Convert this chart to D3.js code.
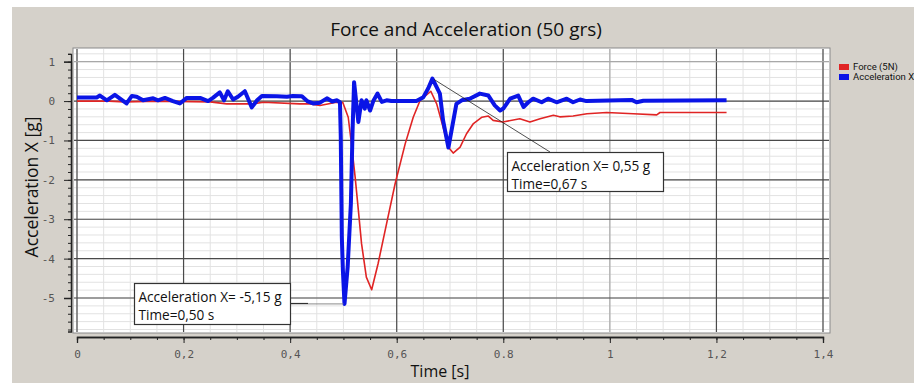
<!DOCTYPE html>
<html><head><meta charset="utf-8">
<script src="https://cdn.jsdelivr.net/npm/d3@7"></script>
<style>html,body{margin:0;padding:0;background:#fff;overflow:hidden}</style>
</head><body>
<svg id="chart" width="914" height="383"></svg>
<script>
const chartTitle = "Force and Acceleration (50 grs)";
const xTitle = "Time [s]";
const yTitle = "Acceleration  X [g]";
const seriesNames = ["Force (5N)", "Acceleration X"];
const xTickValues = [0, 0.2, 0.4, 0.6, 0.8, 1.0, 1.2, 1.4];
const xTickLabels = ["0", "0,2", "0,4", "0,6", "0.8", "1", "1,2", "1,4"];
const yTickValues = [1, 0, -1, -2, -3, -4, -5];
const yTickLabels = ["1", "0", "-1", "-2", "-3", "-4", "-5"];

const accelTime = [0.000,0.037,0.043,0.056,0.071,0.093,0.103,0.112,0.124,0.143,0.152,0.165,0.180,0.193,0.206,0.231,0.246,0.255,0.268,0.276,0.283,0.293,0.302,0.315,0.328,0.338,0.347,0.375,0.394,0.405,0.422,0.432,0.443,0.456,0.469,0.479,0.488,0.4935,0.495,0.497,0.499,0.502,0.508,0.514,0.517,0.520,0.528,0.534,0.540,0.543,0.550,0.556,0.564,0.572,0.581,0.590,0.637,0.650,0.659,0.667,0.681,0.687,0.697,0.703,0.712,0.722,0.737,0.756,0.772,0.784,0.794,0.800,0.813,0.828,0.838,0.847,0.856,0.872,0.884,0.900,0.919,0.931,0.944,0.956,1.041,1.050,1.063,1.219];
const accelValues = [0.09,0.09,0.14,0.02,0.16,-0.06,0.13,0.11,0.02,0.07,0.02,0.08,0.00,-0.06,0.08,0.08,0.00,0.08,0.22,0.02,0.25,0.04,0.11,0.25,-0.16,0.02,0.13,0.12,0.11,0.13,0.12,0.00,-0.06,-0.04,0.07,-0.01,0.02,-0.03,-0.90,-3.45,-4.30,-5.15,-4.20,-2.60,-0.82,0.48,-0.53,0.02,-0.19,0.02,-0.24,0.00,0.19,-0.02,0.02,0.00,0.00,0.10,0.32,0.57,0.19,-0.49,-1.18,-0.74,-0.07,0.02,0.06,0.19,0.14,-0.11,-0.24,-0.19,0.06,0.14,-0.15,-0.03,0.06,-0.03,0.06,-0.03,0.06,-0.03,0.04,0.00,0.03,-0.03,0.01,0.02];

const forceTime = [0.000,0.060,0.090,0.150,0.250,0.281,0.330,0.350,0.418,0.437,0.456,0.487,0.499,0.509,0.515,0.522,0.528,0.534,0.543,0.553,0.565,0.581,0.597,0.616,0.631,0.644,0.664,0.675,0.687,0.697,0.706,0.719,0.731,0.744,0.760,0.772,0.781,0.799,0.831,0.850,0.869,0.894,0.906,0.931,0.957,0.994,1.044,1.088,1.094,1.219];
const forceValues = [0.00,0.00,-0.02,0.00,-0.02,-0.07,-0.07,-0.03,-0.07,-0.07,-0.11,-0.03,-0.04,-0.41,-1.08,-1.93,-2.77,-3.62,-4.47,-4.79,-4.13,-3.11,-2.10,-1.08,-0.41,0.02,0.25,-0.07,-0.66,-1.17,-1.32,-1.17,-0.83,-0.57,-0.41,-0.38,-0.49,-0.53,-0.45,-0.53,-0.45,-0.36,-0.40,-0.38,-0.32,-0.29,-0.32,-0.35,-0.29,-0.29];

const annotations = [
  {t: 0.67, v: 0.55, lines: ["Acceleration X= 0,55 g", "Time=0,67 s"]},
  {t: 0.50, v: -5.15, lines: ["Acceleration X= -5,15 g", "Time=0,50 s"]}
];

const svg = d3.select("#chart");
const x = d3.scaleLinear().domain([0, 1.4]).range([77, 823]);
const y = d3.scaleLinear().domain([1, -5]).range([61.7, 298]);
const plotL = 73, plotR = 830, plotT = 48, plotB = 333;

// background panel
svg.append("rect").attr("x", 0).attr("y", 0).attr("width", 914).attr("height", 383).attr("fill", "#ffffff");
svg.append("rect").attr("x", 12).attr("y", 7).attr("width", 902).attr("height", 376).attr("fill", "#d5d1ca");

// plot area
svg.append("rect").attr("x", plotL).attr("y", plotT).attr("width", plotR - plotL).attr("height", plotB - plotT)
  .attr("fill", "#ffffff").attr("stroke", "#8a8a8a").attr("stroke-width", 1);

const grid = svg.append("g");
d3.range(0, 1.4001, 0.05).forEach(t => {
  grid.append("line").attr("x1", x(t)).attr("x2", x(t)).attr("y1", plotT + 1).attr("y2", plotB - 1)
    .attr("stroke", "#e2e2e2").attr("stroke-width", 1);
});
d3.range(-5.8, 1.25, 0.2).forEach(v => {
  grid.append("line").attr("x1", plotL + 1).attr("x2", plotR - 1).attr("y1", y(v)).attr("y2", y(v))
    .attr("stroke", "#e2e2e2").attr("stroke-width", 1);
});
xTickValues.forEach(t => {
  grid.append("line").attr("x1", x(t)).attr("x2", x(t)).attr("y1", plotT + 1).attr("y2", plotB - 1)
    .attr("stroke", Math.abs(t - 1) < 1e-9 ? "#a8a8a8" : "#4a4a4a").attr("stroke-width", 1.2);
});
yTickValues.forEach(v => {
  grid.append("line").attr("x1", plotL + 1).attr("x2", plotR - 1).attr("y1", y(v)).attr("y2", y(v))
    .attr("stroke", v === 1 ? "#a8a8a8" : "#4a4a4a").attr("stroke-width", 1.2);
});

// y axis
const yAxisG = svg.append("g").attr("transform", "translate(71,0)");
const yAxisScale = d3.scaleLinear().domain([1.2, -5.85]).range([y(1.2), y(-5.85)]);
yAxisG.call(d3.axisLeft(yAxisScale).tickValues(d3.range(-5.8, 1.25, 0.2)).tickSize(3).tickFormat(""));
yAxisG.append("g").call(d3.axisLeft(y).tickValues(yTickValues).tickSize(7).tickFormat((d, i) => yTickLabels[i]));
yAxisG.selectAll("path.domain").attr("stroke", "#222").attr("stroke-width", 1.3);
yAxisG.selectAll("line").attr("stroke", "#222");
yAxisG.selectAll("text").attr("font-family", "DejaVu Sans Mono").attr("font-size", 11).attr("fill", "#555").attr("x", -16);

// x axis
const xAxisG = svg.append("g").attr("transform", "translate(0,337)");
xAxisG.call(d3.axisBottom(x).tickValues(d3.range(0, 1.4001, 0.05)).tickSize(3).tickFormat(""));
xAxisG.append("g").call(d3.axisBottom(x).tickValues(xTickValues).tickSize(6).tickFormat((d, i) => xTickLabels[i]));
xAxisG.selectAll("path.domain").attr("stroke", "#222").attr("stroke-width", 1.3);
xAxisG.selectAll("line").attr("stroke", "#222");
xAxisG.selectAll("text").attr("font-family", "DejaVu Sans Mono").attr("font-size", 11).attr("fill", "#555").attr("y", 13);

// series
const lineGen = (ts, vs) => d3.line().x((d, i) => x(ts[i])).y((d, i) => y(vs[i]))(vs);
svg.append("path").attr("d", lineGen(forceTime, forceValues)).attr("fill", "none")
  .attr("stroke", "#e02424").attr("stroke-width", 1.6).attr("stroke-linejoin", "round");
svg.append("path").attr("d", lineGen(accelTime, accelValues)).attr("fill", "none")
  .attr("stroke", "#0a14e6").attr("stroke-width", 4).attr("stroke-linejoin", "round");

// annotations
const a1 = annotations[0], a2 = annotations[1];
svg.append("line").attr("x1", x(a1.t)).attr("y1", y(a1.v)).attr("x2", 550).attr("y2", 152)
  .attr("stroke", "#222").attr("stroke-width", 0.8);
svg.append("line").attr("x1", 290).attr("y1", y(a2.v)).attr("x2", x(a2.t)).attr("y2", y(a2.v))
  .attr("stroke", "#8a8a8a").attr("stroke-width", 1);
svg.append("line").attr("x1", 290).attr("y1", y(a2.v) - 0.5).attr("x2", 308).attr("y2", y(a2.v) - 0.5)
  .attr("stroke", "#222").attr("stroke-width", 1);

function box(bx, by, bw, bh, lines) {
  svg.append("rect").attr("x", bx).attr("y", by).attr("width", bw).attr("height", bh)
    .attr("fill", "#fff").attr("stroke", "#333").attr("stroke-width", 1.2);
  lines.forEach((s, i) => {
    svg.append("text").attr("x", bx + 4).attr("y", by + 18 + i * 18).text(s)
      .attr("font-family", "Open Sans").attr("font-size", 13.6).attr("fill", "#111");
  });
}
box(507.5, 152.5, 156, 39, a1.lines);
box(134.5, 283.5, 156, 41, a2.lines);

// titles
svg.append("text").attr("x", 466).attr("y", 36).attr("text-anchor", "middle").text(chartTitle)
  .attr("font-family", "Open Sans").attr("font-size", 19).attr("fill", "#111");
svg.append("text").attr("x", 440).attr("y", 377).attr("text-anchor", "middle").text(xTitle)
  .attr("font-family", "Open Sans").attr("font-size", 16).attr("fill", "#111");
svg.append("text").attr("transform", "translate(38,187) rotate(-90)").attr("text-anchor", "middle").text(yTitle)
  .attr("font-family", "Open Sans").attr("font-size", 17.5).attr("fill", "#111");

// legend
const legendColors = ["#e02424", "#0a14e6"];
seriesNames.forEach((n, i) => {
  svg.append("rect").attr("x", 839).attr("y", 64 + i * 10).attr("width", 10).attr("height", 6).attr("fill", legendColors[i]);
  svg.append("text").attr("x", 853).attr("y", 70 + i * 10).text(n)
    .attr("font-family", "Roboto").attr("font-size", 9.5).attr("fill", "#111");
});
</script>
</body></html>
